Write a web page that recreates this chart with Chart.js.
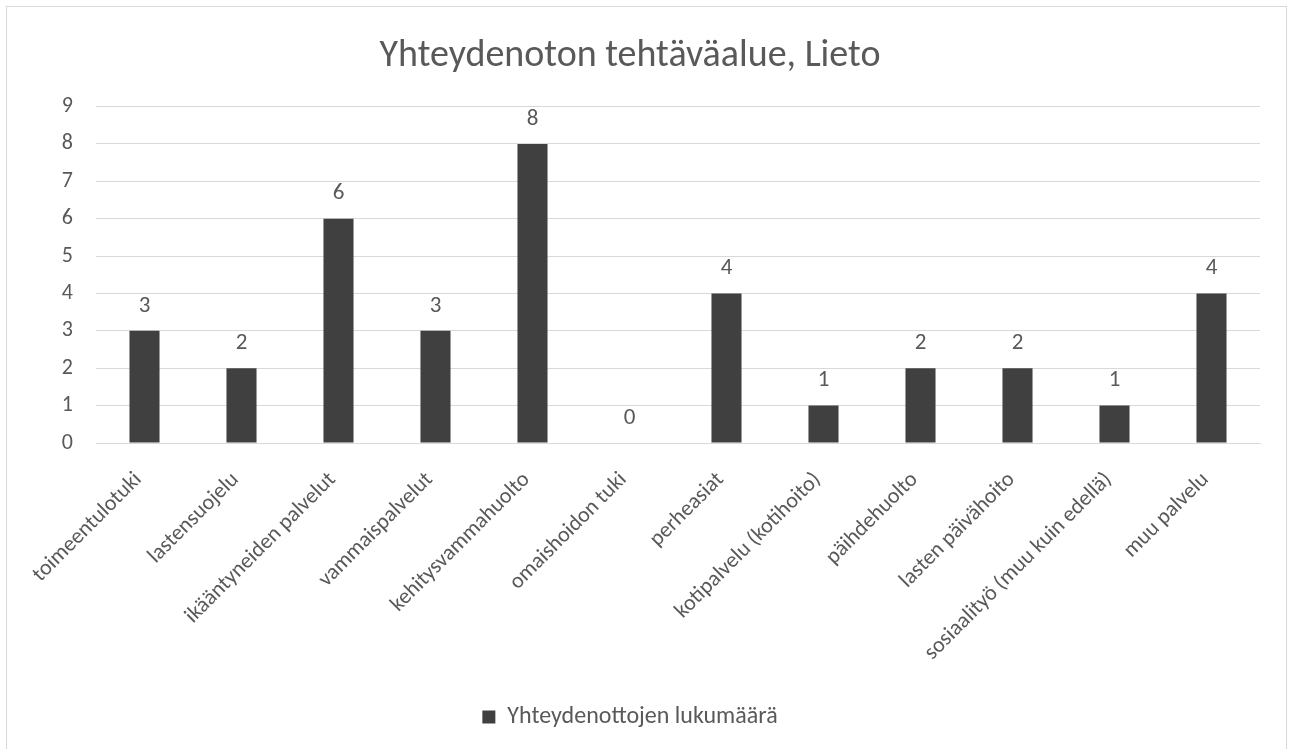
<!DOCTYPE html>
<html>
<head>
<meta charset="utf-8">
<script src="https://cdn.jsdelivr.net/npm/chart.js@4"></script>
<style>
  body { margin: 0; background: #fff; }
  #frame { position: absolute; left: 6px; top: 6px; width: 1281px; height: 760px; border: 1px solid #d9d9d9; box-sizing: border-box; }
  #wrap { position: absolute; left: 0; top: 0; width: 1295px; height: 749px; }
</style>
</head>
<body>
<div id="frame"></div>
<div id="wrap"><canvas id="chart1"></canvas></div>
<script>
// categories and values
const categories = [
  "toimeentulotuki", "lastensuojelu", "ikääntyneiden palvelut", "vammaispalvelut",
  "kehitysvammahuolto", "omaishoidon tuki", "perheasiat", "kotipalvelu (kotihoito)",
  "päihdehuolto", "lasten päivähoito", "sosiaalityö (muu kuin edellä)", "muu palvelu"
];
const counts = [3, 2, 6, 3, 8, 0, 4, 1, 2, 2, 1, 4];
const yTicks = [0, 1, 2, 3, 4, 5, 6, 7, 8, 9];

const FONT = "Carlito, Calibri, Lato, sans-serif";
const TEXT = "#595959";

// draws the value above each bar
const valueLabels = {
  id: "valueLabels",
  afterDatasetsDraw(chart) {
    const ctx = chart.ctx;
    const meta = chart.getDatasetMeta(0);
    ctx.save();
    ctx.font = "23px " + FONT;
    ctx.fillStyle = TEXT;
    ctx.textAlign = "center";
    ctx.textBaseline = "middle";
    meta.data.forEach((bar, i) => {
      ctx.fillText(String(counts[i]), bar.x, bar.y - 25);
    });
    ctx.restore();
  }
};

let chart1Instance = new Chart(document.getElementById("chart1").getContext("2d"), {
  type: "bar",
  data: {
    labels: categories,
    datasets: [{
      label: "Yhteydenottojen lukumäärä",
      data: counts,
      backgroundColor: "#404040",
      categoryPercentage: 1,
      barPercentage: 0.31
    }]
  },
  options: {
    responsive: true,
    maintainAspectRatio: false,
    animation: false,
    layout: { padding: { left: 0, right: 35, top: 0, bottom: 10 } },
    scales: {
      x: {
        grid: { display: false },
        border: { color: "#d9d9d9" },
        ticks: {
          color: TEXT,
          font: { family: FONT, size: 22 },
          minRotation: 45,
          maxRotation: 45,
          padding: 16,
          labelOffset: -6
        },
        afterFit(scale) { scale.height = 252; }
      },
      y: {
        min: 0,
        max: 9,
        afterBuildTicks(scale) { scale.ticks = yTicks.map(v => ({ value: v })); },
        grid: { color: "#d9d9d9", lineWidth: 1, drawTicks: false },
        border: { display: false },
        ticks: {
          color: TEXT,
          font: { family: FONT, size: 22 },
          padding: 23
        },
        afterFit(scale) { scale.width = 96; }
      }
    },
    plugins: {
      title: {
        display: true,
        text: "Yhteydenoton tehtäväalue, Lieto",
        color: TEXT,
        font: { family: FONT, size: 38, weight: "normal" },
        padding: { top: 34, bottom: 27 }
      },
      legend: {
        position: "bottom",
        labels: {
          color: TEXT,
          font: { family: FONT, size: 24 },
          boxWidth: 13,
          boxHeight: 13,
          padding: 10
        }
      },
      tooltip: { enabled: false }
    }
  },
  plugins: [valueLabels]
});
</script>
</body>
</html>
